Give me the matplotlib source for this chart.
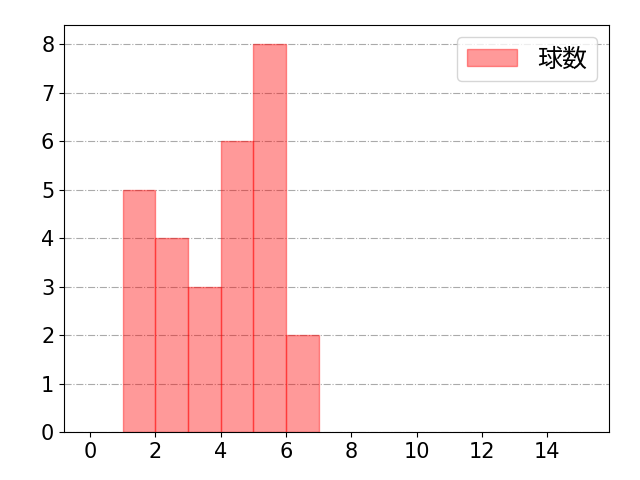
import matplotlib
matplotlib.use("Agg")
import matplotlib.pyplot as plt

plt.rcParams['font.family'] = ['DejaVu Sans', 'Noto Sans CJK JP']

# bin left edges and counts
bin_left = [1, 2, 3, 4, 5, 6]
counts = [5, 4, 3, 6, 8, 2]
label = '球数'

fig, ax = plt.subplots(figsize=(6.4, 4.8), dpi=100)
ax.bar(bin_left, counts, width=1, align='edge', color='red', alpha=0.4,
       edgecolor='red', linewidth=1, label=label)
ax.set_xlim(-0.8, 15.9)
ax.set_ylim(0, 8.4)
ax.set_xticks(range(0, 15, 2))
ax.set_yticks(range(0, 9))
ax.tick_params(labelsize=15)
ax.grid(axis='y', linestyle='-.', color='#aaaaaa', linewidth=0.8)
ax.set_axisbelow(True)
ax.legend(loc='upper right', fontsize=18)
fig.subplots_adjust(left=0.1, right=0.952, top=0.948, bottom=0.1)
fig.savefig('out.png')
